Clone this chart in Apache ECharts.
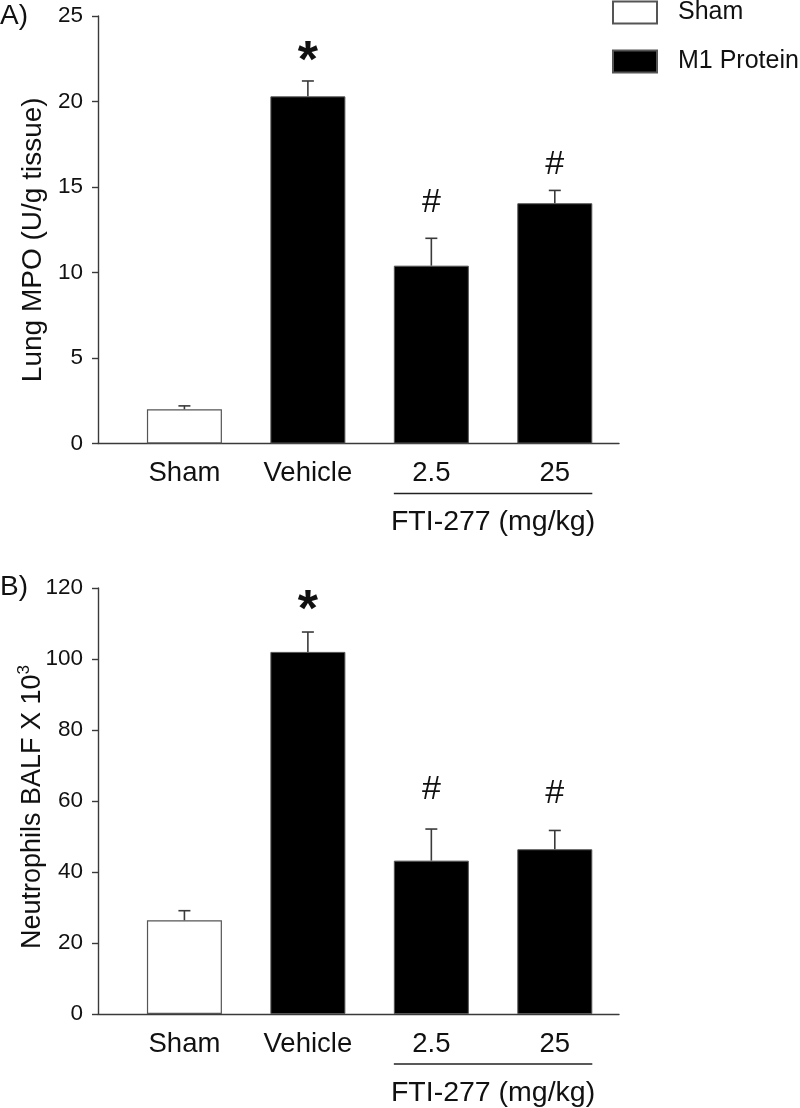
<!DOCTYPE html>
<html>
<head>
<meta charset="utf-8">
<script src="https://cdn.jsdelivr.net/npm/echarts@6/dist/echarts.min.js"></script>
<style>
html,body{margin:0;padding:0;background:#fff;}
#chart{width:800px;height:1108px;}
</style>
</head>
<body>
<div id="chart"></div>
<script>
// ---- data ----
const categories = ['Sham', 'Vehicle', '2.5', '25'];
const groups = ['Sham', 'M1 Protein', 'M1 Protein', 'M1 Protein'];
const mpoMean = [2.0, 20.3, 10.4, 14.05];
const mpoSem = [0.2, 0.9, 1.6, 0.75];
const mpoMarks = ['', '*', '#', '#'];
const mpoMarkY = [null, 23.0, 14.1, 16.3];
const neuMean = [26.4, 102.0, 43.2, 46.4];
const neuSem = [2.7, 5.6, 8.9, 5.3];
const neuMarks = ['', '*', '#', '#'];
const neuMarkY = [null, 116.6, 63.1, 62.2];
const mpoTicks = [0, 5, 10, 15, 20, 25];
const neuTicks = [0, 20, 40, 60, 80, 100, 120];
const bracketLabel = 'FTI-277 (mg/kg)';
const bracketCats = ['2.5', '25'];

const FONT = 'Liberation Sans, Arial, Helvetica, sans-serif';
const BAR_W = 75;
const positions = categories.map((c, i) => i + 1);

function barData(means, group) {
  return means.map((v, i) => groups[i] === group ? [positions[i], v] : null).filter(d => d);
}

function errorSeries(means, sems, axisIdx) {
  return {
    type: 'custom', xAxisIndex: axisIdx, yAxisIndex: axisIdx, silent: true, clip: false, z: 5,
    data: means.map((m, i) => [positions[i], m, m + sems[i]]),
    renderItem: function (params, api) {
      const top = api.coord([api.value(0), api.value(1)]);
      const cap = api.coord([api.value(0), api.value(2)]);
      const st = { stroke: '#3a3a3a', lineWidth: 1.6 };
      return {
        type: 'group', children: [
          { type: 'line', shape: { x1: top[0], y1: top[1], x2: cap[0], y2: cap[1] }, style: st },
          { type: 'line', shape: { x1: cap[0] - 6, y1: cap[1], x2: cap[0] + 6, y2: cap[1] }, style: st }
        ]
      };
    }
  };
}

function markSeries(marks, markY, axisIdx) {
  const data = [];
  marks.forEach((m, i) => { if (m) data.push([positions[i], markY[i], m]); });
  return {
    type: 'custom', xAxisIndex: axisIdx, yAxisIndex: axisIdx, silent: true, clip: false, z: 6,
    data: data,
    renderItem: function (params, api) {
      const p = api.coord([api.value(0), api.value(1)]);
      const txt = data[params.dataIndex][2];
      const isStar = txt === '*';
      return {
        type: 'text',
        x: p[0], y: p[1] + (isStar ? 12 : 0),
        style: {
          text: txt, fill: '#111', align: 'center', verticalAlign: 'middle',
          font: (isStar ? 'bold 52px ' : 'normal 34px ') + FONT
        }
      };
    }
  };
}

function bracketSeries(axisIdx) {
  const i1 = categories.indexOf(bracketCats[0]);
  const i2 = categories.indexOf(bracketCats[1]);
  return {
    type: 'custom', xAxisIndex: axisIdx, yAxisIndex: axisIdx, silent: true, clip: false, z: 6,
    data: [[positions[i1], positions[i2], 0]],
    renderItem: function (params, api) {
      const a = api.coord([api.value(0), api.value(2)]);
      const b = api.coord([api.value(1), api.value(2)]);
      const y = a[1] + 50;
      return {
        type: 'group', children: [
          { type: 'line', shape: { x1: a[0] - BAR_W / 2, y1: y, x2: b[0] + BAR_W / 2, y2: y },
            style: { stroke: '#222', lineWidth: 1.3 } },
          { type: 'text', x: (a[0] + b[0]) / 2, y: y + 29,
            style: { text: bracketLabel, fill: '#111', align: 'center', verticalAlign: 'middle',
                     font: 'normal 28.5px ' + FONT } }
        ]
      };
    }
  };
}

function xAxisDef(gridIdx) {
  return {
    type: 'value', gridIndex: gridIdx, min: 0.3, max: 4.52,
    splitLine: { show: false },
    axisLine: { show: true, onZero: false, lineStyle: { color: '#3a3a3a', width: 1.4 } },
    axisTick: { show: false },
    axisLabel: {
      customValues: positions,
      formatter: function (v) { const i = positions.indexOf(v); return i >= 0 ? categories[i] : ''; },
      fontSize: 27.5, fontFamily: FONT, color: '#111', margin: 15, lineHeight: 30,
      showMinLabel: true, showMaxLabel: true
    }
  };
}

function yAxisDef(gridIdx, ticks, name, nameSize, namePad, nameGap) {
  return {
    type: 'value', gridIndex: gridIdx, min: ticks[0], max: ticks[ticks.length - 1],
    interval: ticks[1] - ticks[0],
    splitLine: { show: false },
    axisLine: { show: true, lineStyle: { color: '#3a3a3a', width: 1.4 } },
    axisTick: { show: true, inside: false, length: 6, lineStyle: { color: '#3a3a3a', width: 1.4 } },
    axisLabel: { fontSize: 22.5, fontFamily: FONT, color: '#111', margin: 15 },
    name: name, nameLocation: 'middle', nameRotate: 90, nameGap: nameGap,
    nameMoveOverlap: false,
    nameTextStyle: {
      fontSize: nameSize, fontFamily: FONT, color: '#111', padding: namePad,
      rich: {
        n: { fontSize: nameSize, fontFamily: FONT, color: '#111', lineHeight: 34 },
        sup: { fontSize: 17, fontFamily: FONT, color: '#111', verticalAlign: 'top' }
      }
    }
  };
}

const shamStyle = { color: '#ffffff', borderColor: '#555', borderWidth: 1.2 };
const m1Style = { color: '#000000', borderColor: '#555', borderWidth: 1 };

const option = {
  animation: false,
  backgroundColor: '#ffffff',
  title: [
    { text: 'A)', left: 0, top: 2, padding: 0, textStyle: { fontSize: 28, fontWeight: 'normal', fontFamily: FONT, color: '#111' } },
    { text: 'B)', left: 0, top: 573, padding: 0, textStyle: { fontSize: 28, fontWeight: 'normal', fontFamily: FONT, color: '#111' } }
  ],
  legend: {
    data: ['Sham', 'M1 Protein'],
    orient: 'vertical', left: 612, top: 0, padding: 0,
    icon: 'rect', itemWidth: 44, itemHeight: 22, itemGap: 24,
    textStyle: { fontSize: 25, fontFamily: FONT, color: '#111', padding: [2, 0, 0, 16] },
    selectedMode: false
  },
  grid: [
    { left: 98, width: 521, top: 16, height: 427.5, outerBoundsMode: 'none', containLabel: false },
    { left: 98, width: 521, top: 588, height: 426, outerBoundsMode: 'none', containLabel: false }
  ],
  xAxis: [xAxisDef(0), xAxisDef(1)],
  yAxis: [
    yAxisDef(0, mpoTicks, 'Lung MPO (U/g tissue)', 28, [0, 20, 0, 0], 51),
    yAxisDef(1, neuTicks, '{n|Neutrophils BALF X 10}{sup|3}', 27, [0, 12, 0, 0], 48)
  ],
  series: [
    { name: 'Sham', type: 'bar', xAxisIndex: 0, yAxisIndex: 0, barWidth: BAR_W, barGap: '-100%',
      data: barData(mpoMean, 'Sham'), itemStyle: shamStyle },
    { name: 'M1 Protein', type: 'bar', xAxisIndex: 0, yAxisIndex: 0, barWidth: BAR_W, barGap: '-100%',
      data: barData(mpoMean, 'M1 Protein'), itemStyle: m1Style },
    errorSeries(mpoMean, mpoSem, 0),
    markSeries(mpoMarks, mpoMarkY, 0),
    bracketSeries(0),
    { name: 'Sham', type: 'bar', xAxisIndex: 1, yAxisIndex: 1, barWidth: BAR_W, barGap: '-100%',
      data: barData(neuMean, 'Sham'), itemStyle: shamStyle },
    { name: 'M1 Protein', type: 'bar', xAxisIndex: 1, yAxisIndex: 1, barWidth: BAR_W, barGap: '-100%',
      data: barData(neuMean, 'M1 Protein'), itemStyle: m1Style },
    errorSeries(neuMean, neuSem, 1),
    markSeries(neuMarks, neuMarkY, 1),
    bracketSeries(1)
  ]
};

const chart = echarts.init(document.getElementById('chart'), null, { renderer: 'canvas' });
chart.setOption(option);
</script>
</body>
</html>
